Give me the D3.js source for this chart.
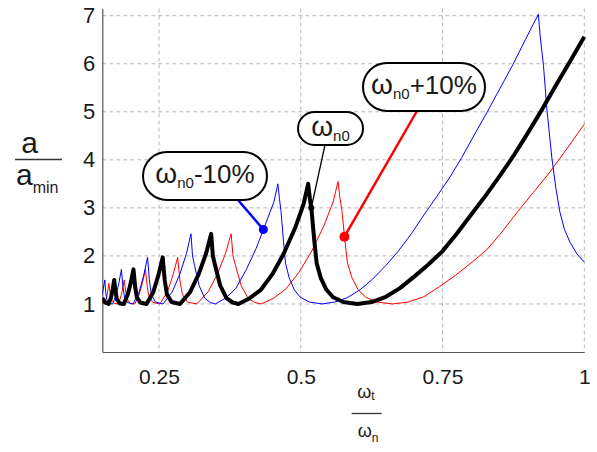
<!DOCTYPE html>
<html>
<head>
<meta charset="utf-8">
<script src="https://cdn.jsdelivr.net/npm/d3@7/dist/d3.min.js"></script>
<style>
  body { margin: 0; background: #fff; }
  text { font-family: 'Liberation Sans', Arial, sans-serif; fill: #1a1a1a; }
</style>
</head>
<body>
<div id="chart"></div>
<script>
// ----------------------------DATA-------------------------------//
const xTicks = [0.25, 0.5, 0.75, 1];
const xTickLabels = ['0.25', '0.5', '0.75', '1'];
const yTicks = [1, 2, 3, 4, 5, 6, 7];

// omega_n0 (thick black)
const curveNominal = [
  [0.150, 1.12], [0.155, 1.03], [0.161, 1.00], [0.165, 1.12], [0.168, 1.28], [0.171, 1.50],
  [0.1735, 1.24], [0.176, 1.09], [0.181, 1.01], [0.188, 1.00], [0.195, 1.20], [0.200, 1.43],
  [0.205, 1.72], [0.208, 1.35], [0.211, 1.14], [0.217, 1.03], [0.228, 1.00], [0.240, 1.25],
  [0.249, 1.60], [0.2565, 1.97], [0.260, 1.50], [0.264, 1.20], [0.272, 1.04], [0.287, 1.00],
  [0.305, 1.25], [0.320, 1.62], [0.333, 2.05], [0.342, 2.46], [0.345, 2.00], [0.349, 1.80],
  [0.358, 1.38], [0.369, 1.12], [0.380, 1.03], [0.390, 1.00], [0.410, 1.12], [0.430, 1.30],
  [0.450, 1.62], [0.470, 2.05], [0.490, 2.58], [0.505, 3.08], [0.513, 3.50], [0.516, 3.20],
  [0.519, 2.95], [0.524, 2.30], [0.528, 1.85], [0.535, 1.55], [0.545, 1.30], [0.557, 1.14],
  [0.575, 1.04], [0.600, 1.00], [0.625, 1.04], [0.650, 1.15], [0.675, 1.33], [0.700, 1.57],
  [0.725, 1.82], [0.750, 2.10], [0.775, 2.46], [0.800, 2.85], [0.825, 3.24], [0.850, 3.65],
  [0.875, 4.08], [0.900, 4.55], [0.925, 5.04], [0.950, 5.55], [0.975, 6.05], [1.000, 6.56]
];

// omega_n0 - 10% (thin blue)
const curveMinus10 = [
  [0.150, 1.20], [0.1545, 1.50], [0.1560, 1.24], [0.1580, 1.09], [0.1622, 1.01], [0.1684, 1.00],
  [0.1747, 1.20], [0.1792, 1.43], [0.1837, 1.72], [0.1864, 1.35], [0.1891, 1.14], [0.1944, 1.03],
  [0.2043, 1.00], [0.2150, 1.25], [0.2231, 1.60], [0.2298, 1.97], [0.2330, 1.50], [0.2365, 1.20],
  [0.2437, 1.04], [0.2572, 1.00], [0.2733, 1.25], [0.2867, 1.62], [0.2984, 2.05], [0.3064, 2.46],
  [0.3091, 2.00], [0.3127, 1.80], [0.3208, 1.38], [0.3306, 1.12], [0.3405, 1.03], [0.3494, 1.00],
  [0.3674, 1.12], [0.3853, 1.32], [0.4032, 1.70], [0.4211, 2.15], [0.4390, 2.70], [0.4525, 3.12],
  [0.4596, 3.50], [0.4623, 3.20], [0.4650, 2.95], [0.4695, 2.30], [0.4731, 1.85], [0.4794, 1.55],
  [0.4883, 1.30], [0.4991, 1.14], [0.5152, 1.04], [0.5376, 1.00], [0.560, 1.04], [0.582, 1.13],
  [0.605, 1.30], [0.627, 1.52], [0.650, 1.80], [0.672, 2.10], [0.695, 2.46], [0.717, 2.85],
  [0.740, 3.24], [0.762, 3.62], [0.784, 4.05], [0.806, 4.52], [0.829, 5.00], [0.851, 5.48],
  [0.874, 5.98], [0.896, 6.50], [0.919, 7.03], [0.922, 6.60], [0.928, 5.96], [0.934, 5.06],
  [0.943, 4.02], [0.950, 3.40], [0.957, 2.91], [0.965, 2.55], [0.975, 2.28], [0.987, 2.04],
  [1.000, 1.87]
];

// omega_n0 + 10% (thin red)
const curvePlus10 = [
  [0.150, 1.03], [0.1545, 1.00], [0.158, 1.15], [0.1617, 1.43], [0.1641, 1.20], [0.1666, 1.08],
  [0.1710, 1.01], [0.1776, 1.00], [0.1820, 1.12], [0.1853, 1.28], [0.1886, 1.50], [0.1914, 1.24],
  [0.1941, 1.09], [0.1996, 1.01], [0.2074, 1.00], [0.2151, 1.20], [0.2206, 1.43], [0.2261, 1.72],
  [0.2294, 1.35], [0.2327, 1.14], [0.2394, 1.03], [0.2515, 1.00], [0.2647, 1.25], [0.2746, 1.60],
  [0.2829, 1.97], [0.2868, 1.50], [0.2912, 1.20], [0.3000, 1.04], [0.3166, 1.00], [0.3364, 1.25],
  [0.3530, 1.62], [0.3673, 2.05], [0.3772, 2.46], [0.3805, 2.00], [0.3849, 1.80], [0.3949, 1.38],
  [0.4070, 1.12], [0.4191, 1.03], [0.4302, 1.00], [0.4522, 1.12], [0.4743, 1.32], [0.4964, 1.65],
  [0.5184, 2.08], [0.5405, 2.62], [0.5570, 3.12], [0.5658, 3.55], [0.5691, 3.20], [0.5725, 2.95],
  [0.5780, 2.30], [0.5824, 1.85], [0.5901, 1.55], [0.6011, 1.30], [0.6144, 1.14], [0.6342, 1.04],
  [0.6618, 1.00], [0.6894, 1.04], [0.7170, 1.15], [0.7445, 1.36], [0.7721, 1.59], [0.800, 1.85],
  [0.8273, 2.12], [0.855, 2.50], [0.8824, 2.92], [0.910, 3.32], [0.9376, 3.72], [0.965, 4.16],
  [0.9927, 4.62], [1.000, 4.74]
];

// callout labels and the points they mark
const calloutSuffix = ['-10%', '', '+10%'];
const calloutPoints = [[0.434, 2.55], [0.5185, 3.0], [0.577, 2.4]];

// ----------------------------LAYOUT-----------------------------//
const width = 597;
const height = 452;
const plot = { left: 102.3, right: 584.3, top: 8.5, bottom: 352 };

const series = [
  { data: curvePlus10, color: '#ff0000', width: 1 },
  { data: curveMinus10, color: '#0000ff', width: 1 },
  { data: curveNominal, color: '#000000', width: 4 }
];

const boxes = [
  { cx: 205, cy: 176, w: 124, h: 48, lx: 238, color: '#0000ff', lw: 2.5, r: 4.5 },
  { cx: 330.5, cy: 128.5, w: 65, h: 33, lx: 325, color: '#000000', lw: 1.3, r: 3 },
  { cx: 424, cy: 87, w: 122, h: 48, lx: 417, color: '#ff0000', lw: 2.5, r: 5 }
];

const svg = d3.select('#chart').append('svg')
  .attr('width', width)
  .attr('height', height);

// ----------------------------SCALES-----------------------------//
const xScale = d3.scaleLinear().domain([0.15, 1]).range([plot.left, plot.right]);
const yScale = d3.scaleLinear().domain([0, 7.15]).range([plot.bottom, plot.top]);

// -----------------------------GRID------------------------------//
svg.append('g')
  .selectAll('line')
  .data(xTicks)
  .enter()
  .append('line')
  .attr('x1', d => xScale(d))
  .attr('x2', d => xScale(d))
  .attr('y1', plot.top)
  .attr('y2', plot.bottom)
  .attr('stroke', '#b8b8b8')
  .attr('stroke-dasharray', '4,3');

svg.append('g')
  .selectAll('line')
  .data(yTicks)
  .enter()
  .append('line')
  .attr('x1', plot.left)
  .attr('x2', plot.right)
  .attr('y1', d => yScale(d))
  .attr('y2', d => yScale(d))
  .attr('stroke', '#b8b8b8')
  .attr('stroke-dasharray', '4,3');

// -----------------------------AXES------------------------------//
const xaxis = d3.axisBottom(xScale)
  .tickValues(xTicks)
  .tickFormat((d, i) => xTickLabels[i])
  .tickSize(0)
  .tickPadding(17);

const yaxis = d3.axisLeft(yScale)
  .tickValues(yTicks)
  .tickSize(0)
  .tickPadding(7);

const gx = svg.append('g')
  .attr('transform', `translate(0,${plot.bottom})`)
  .call(xaxis);
gx.select('.domain').attr('stroke', '#555').attr('stroke-width', 1.2);
gx.selectAll('text').attr('font-size', 21).attr('fill', '#1a1a1a')
  .attr('font-family', "'Liberation Sans', Arial, sans-serif");

const gy = svg.append('g')
  .attr('transform', `translate(${plot.left},0)`)
  .call(yaxis);
gy.select('.domain').attr('stroke', '#555').attr('stroke-width', 1.2);
gy.selectAll('text').attr('font-size', 22).attr('fill', '#1a1a1a')
  .attr('font-family', "'Liberation Sans', Arial, sans-serif");

// ----------------------------LINES------------------------------//
svg.append('clipPath')
  .attr('id', 'clip')
  .append('rect')
  .attr('x', plot.left)
  .attr('y', plot.top - 2)
  .attr('width', plot.right - plot.left + 3)
  .attr('height', plot.bottom - plot.top + 2);

const line = d3.line()
  .x(d => xScale(d[0]))
  .y(d => yScale(d[1]));

svg.append('g')
  .attr('clip-path', 'url(#clip)')
  .selectAll('path')
  .data(series)
  .enter()
  .append('path')
  .attr('d', d => line(d.data))
  .attr('fill', 'none')
  .attr('stroke', d => d.color)
  .attr('stroke-width', d => d.width)
  .attr('stroke-linejoin', 'round');

// --------------------------CALLOUTS-----------------------------//
boxes.forEach((b, i) => {
  const p = calloutPoints[i];
  svg.append('line')
    .attr('x1', b.lx)
    .attr('y1', b.cy + b.h / 2)
    .attr('x2', xScale(p[0]))
    .attr('y2', yScale(p[1]))
    .attr('stroke', b.color)
    .attr('stroke-width', b.lw);

  svg.append('circle')
    .attr('cx', xScale(p[0]))
    .attr('cy', yScale(p[1]))
    .attr('r', b.r)
    .attr('fill', b.color);

  svg.append('rect')
    .attr('x', b.cx - b.w / 2)
    .attr('y', b.cy - b.h / 2)
    .attr('width', b.w)
    .attr('height', b.h)
    .attr('rx', b.h / 2)
    .attr('fill', '#fff')
    .attr('stroke', '#000')
    .attr('stroke-width', 2);

  const t = svg.append('text')
    .attr('x', b.cx)
    .attr('y', b.cy + 7)
    .attr('text-anchor', 'middle')
    .attr('font-size', 26);
  t.append('tspan').attr('font-size', 28).text('ω');
  t.append('tspan').attr('font-size', 15).attr('dy', 5).text('n0');
  if (calloutSuffix[i]) t.append('tspan').attr('dy', -5).text(calloutSuffix[i]);
});

// --------------------------AXIS TITLES--------------------------//
// y: a / a_min
svg.append('text').attr('x', 29.5).attr('y', 153).attr('text-anchor', 'middle')
  .attr('font-size', 30).text('a');
svg.append('line').attr('x1', 15).attr('x2', 62).attr('y1', 159.5).attr('y2', 159.5)
  .attr('stroke', '#333').attr('stroke-width', 1.3);
const ya = svg.append('text').attr('x', 16).attr('y', 185).attr('font-size', 30);
ya.append('tspan').text('a');
ya.append('tspan').attr('font-size', 16).attr('dy', 8).text('min');

// x: omega_t / omega_n
const xt = svg.append('text').attr('x', 366).attr('y', 398).attr('text-anchor', 'middle')
  .attr('font-size', 18);
xt.append('tspan').text('ω');
xt.append('tspan').attr('font-size', 12).attr('dy', 2).text('t');
svg.append('line').attr('x1', 351.7).attr('x2', 381.7).attr('y1', 413.5).attr('y2', 413.5)
  .attr('stroke', '#333').attr('stroke-width', 1.3);
const xn = svg.append('text').attr('x', 368).attr('y', 437).attr('text-anchor', 'middle')
  .attr('font-size', 18);
xn.append('tspan').text('ω');
xn.append('tspan').attr('font-size', 12).attr('dy', 5).text('n');
</script>
</body>
</html>
